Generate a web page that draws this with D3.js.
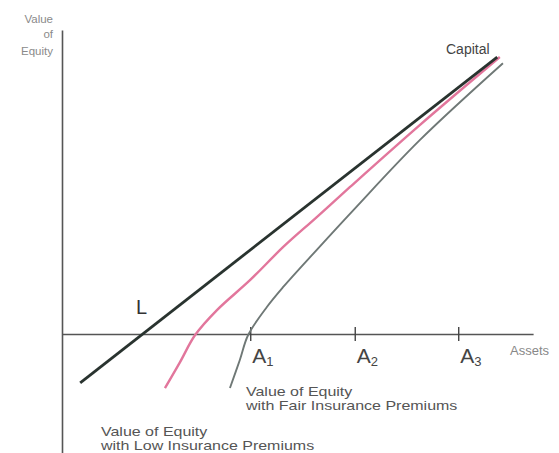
<!DOCTYPE html>
<html>
<head>
<meta charset="utf-8">
<script src="https://cdn.jsdelivr.net/npm/d3@7"></script>
<style>
  html, body { margin: 0; padding: 0; background: #fff; }
  svg { display: block; font-family: "Liberation Sans", Arial, sans-serif; }
</style>
</head>
<body>
<svg id="chart" width="559" height="453"></svg>
<script>
// ---- data (assets units, equity units) ----
const capitalX = [0.35, 8.37];
const capitalY = [-0.94, 5.33];

const lowX = [1.98, 2.27, 2.56, 2.98, 3.62, 4.25, 4.90, 5.54, 6.88, 8.42];
const lowY = [-1.04, -0.54, -0.02, 0.46, 1.04, 1.67, 2.25, 2.83, 4.02, 5.33];

const fairX = [3.23, 3.42, 3.58, 3.94, 4.25, 4.90, 5.60, 6.88, 8.48];
const fairY = [-1.04, -0.50, -0.02, 0.52, 0.90, 1.62, 2.38, 3.73, 5.21];

const tickValues = [3.62, 5.63, 7.62];
const tickLabels = ["1", "2", "3"];
const pointL = 1.54;

const xDomain = [0, 9.06];
const yDomain = [-2.29, 5.85];

// ---- chart ----
const svg = d3.select("#chart");
const x = d3.scaleLinear().domain(xDomain).range([62, 533.1]);
const y = d3.scaleLinear().domain(yDomain).range([453, 30]);

// y axis
svg.append("g")
  .attr("transform", `translate(${x(0)},0)`)
  .call(d3.axisLeft(y).tickValues([]).tickSizeOuter(0))
  .call(g => g.select(".domain").attr("stroke", "#555").attr("stroke-width", 1.6));

// x axis
const xa = svg.append("g")
  .attr("transform", `translate(0,${y(0)})`)
  .call(d3.axisBottom(x).tickValues(tickValues).tickSizeOuter(0).tickSizeInner(7).tickFormat(""));
xa.select(".domain").attr("stroke", "#555").attr("stroke-width", 1.4);
xa.selectAll(".tick line").attr("y1", -7).attr("y2", 7).attr("stroke", "#444").attr("stroke-width", 1.4);

// tick labels A1, A2, A3
tickValues.forEach((v, i) => {
  const t = svg.append("text")
    .attr("x", x(v) + 2)
    .attr("y", y(0) + 29)
    .attr("fill", "#444")
    .attr("font-size", 21);
  t.append("tspan").text("A");
  t.append("tspan").attr("font-size", 13).attr("dy", 3).text(tickLabels[i]);
});

const line = d3.line().x(d => x(d[0])).y(d => y(d[1])).curve(d3.curveCatmullRom.alpha(0.5));

// fair premiums (gray)
svg.append("path")
  .datum(fairX.map((v, i) => [v, fairY[i]]))
  .attr("d", line)
  .attr("fill", "none")
  .attr("stroke", "#6f7876")
  .attr("stroke-width", 1.9);

// low premiums (pink)
svg.append("path")
  .datum(lowX.map((v, i) => [v, lowY[i]]))
  .attr("d", line)
  .attr("fill", "none")
  .attr("stroke", "#e2769c")
  .attr("stroke-width", 2.4);

// capital (dark)
svg.append("path")
  .datum(capitalX.map((v, i) => [v, capitalY[i]]))
  .attr("d", d3.line().x(d => x(d[0])).y(d => y(d[1])))
  .attr("fill", "none")
  .attr("stroke", "#29332f")
  .attr("stroke-width", 2.8);

// labels
[["Value", 23], ["of", 38], ["Equity", 55]].forEach(([s, yy]) =>
  svg.append("text").attr("text-anchor", "end").attr("fill", "#8a8a8a").attr("font-size", 11.5)
    .attr("x", 53).attr("y", yy).text(s));

svg.append("text").attr("x", 446).attr("y", 54).attr("fill", "#444").attr("font-size", 14).text("Capital");
svg.append("text").attr("x", x(pointL) - 6).attr("y", 314).attr("fill", "#333").attr("font-size", 20).text("L");
svg.append("text").attr("x", 510).attr("y", 355).attr("fill", "#888").attr("font-size", 13).text("Assets");

function wideLabel(px, py, s) {
  svg.append("text")
    .attr("transform", `translate(${px},${py}) scale(1.23,1)`)
    .attr("fill", "#555").attr("font-size", 13)
    .text(s);
}
wideLabel(246, 396, "Value of Equity");
wideLabel(246, 410, "with Fair Insurance Premiums");
wideLabel(101, 436, "Value of Equity");
wideLabel(101, 450, "with Low Insurance Premiums");
</script>
</body>
</html>
